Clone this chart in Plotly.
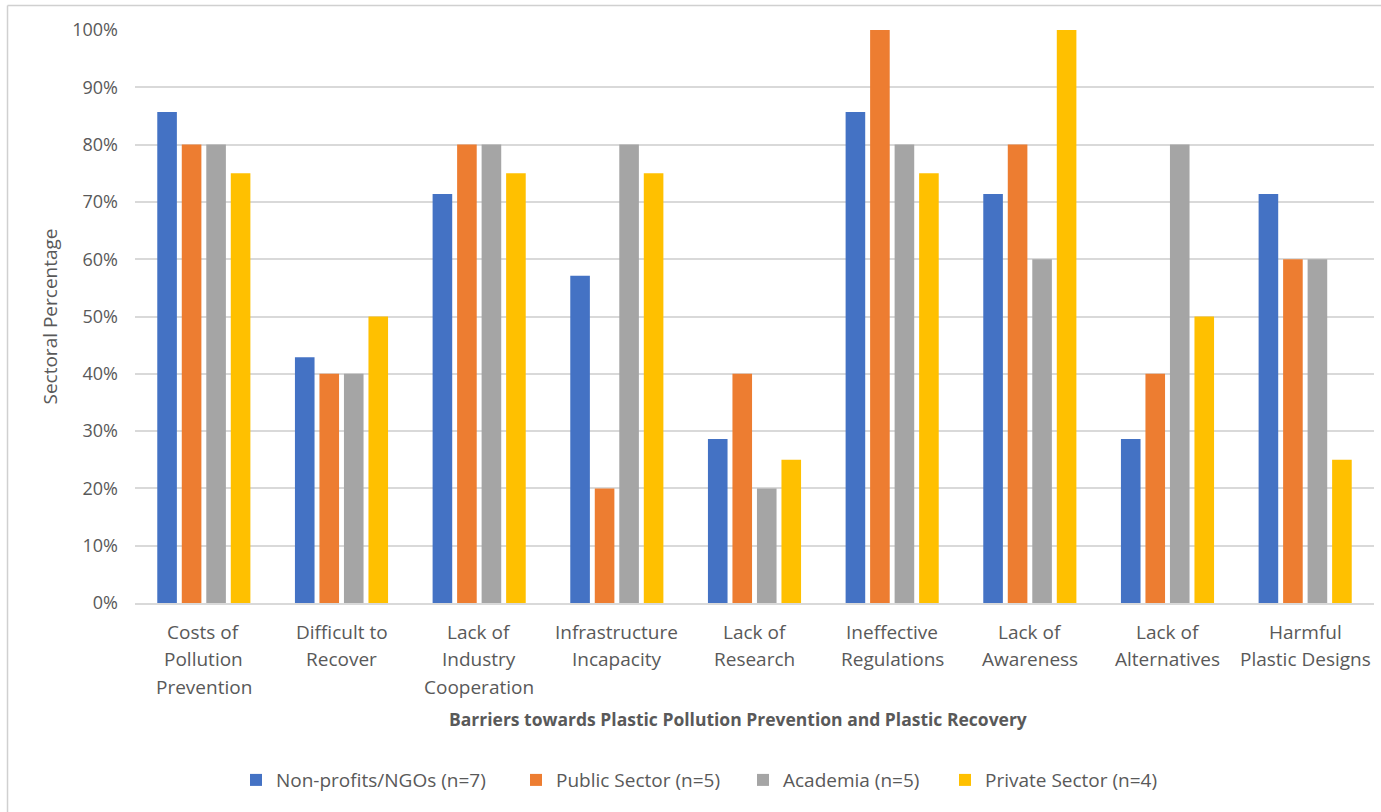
import plotly.graph_objects as go

# Barrier categories and their wrapped axis labels
categories = [
    "Costs of Pollution Prevention",
    "Difficult to Recover",
    "Lack of Industry Cooperation",
    "Infrastructure Incapacity",
    "Lack of Research",
    "Ineffective Regulations",
    "Lack of Awareness",
    "Lack of Alternatives",
    "Harmful Plastic Designs",
]
category_lines = [
    ["Costs of", "Pollution", "Prevention"],
    ["Difficult to", "Recover"],
    ["Lack of", "Industry", "Cooperation"],
    ["Infrastructure", "Incapacity"],
    ["Lack of", "Research"],
    ["Ineffective", "Regulations"],
    ["Lack of", "Awareness"],
    ["Lack of", "Alternatives"],
    ["Harmful", "Plastic Designs"],
]

# Share of respondents per sector citing each barrier (%)
ngo = [85.7, 42.9, 71.4, 57.1, 28.6, 85.7, 71.4, 28.6, 71.4]
public_sector = [80, 40, 80, 20, 40, 100, 80, 40, 60]
academia = [80, 40, 80, 80, 20, 80, 60, 80, 60]
private_sector = [75, 50, 75, 75, 25, 75, 100, 50, 25]

series_names = [
    "Non-profits/NGOs (n=7)",
    "Public Sector (n=5)",
    "Academia (n=5)",
    "Private Sector (n=4)",
]
series_values = [ngo, public_sector, academia, private_sector]
series_colors = ["#4472C4", "#ED7D31", "#A5A5A5", "#FFC000"]
# Legend entry widths (px) so the entries keep an even spacing
legend_widths = [235, 182, 157, 175]

FONT = "Open Sans, Noto Sans, sans-serif"
TEXT = "#595959"
GRID = "#D9D9D9"

fig = go.Figure()
for name, vals, color, lw in zip(series_names, series_values,
                                 series_colors, legend_widths):
    fig.add_trace(go.Bar(
        x=categories, y=vals, name=name, legendwidth=lw,
        marker=dict(color=color, line=dict(width=0)),
    ))

# Multi-line category labels under each group
annotations = []
for cat, lines in zip(categories, category_lines):
    for i, line in enumerate(lines):
        annotations.append(dict(
            x=cat, xref="x", y=0, yref="paper",
            text=line, showarrow=False,
            xanchor="center", yanchor="middle",
            yshift=-29 - 27.3 * i,
            font=dict(family=FONT, size=19, color=TEXT),
        ))

# Horizontal axis title
annotations.append(dict(
    x=0.4867, xref="paper", y=0, yref="paper",
    text="<b>Barriers towards Plastic Pollution Prevention and Plastic Recovery</b>",
    showarrow=False, xanchor="center", yanchor="middle", yshift=-116,
    font=dict(family=FONT, size=17.5, color=TEXT),
))

# Chart area frame (top and left edges)
frame = dict(color="#D0D0D0", width=1.5)
shapes = [
    dict(type="line", xref="paper", yref="paper",
         x0=-0.1029, x1=1.2, y0=1.0428, y1=1.0428, line=frame),
    dict(type="line", xref="paper", yref="paper",
         x0=-0.1029, x1=-0.1029, y0=1.0428, y1=-0.6, line=frame),
]

fig.update_layout(
    width=1381, height=812,
    margin=dict(l=135, r=7, t=30, b=209),
    paper_bgcolor="white", plot_bgcolor="white",
    barmode="group", bargap=0.288, bargroupgap=0.2,
    font=dict(family=FONT, size=18, color=TEXT),
    showlegend=True,
    legend=dict(
        orientation="h", x=0.0815, xanchor="left",
        y=-0.309, yanchor="middle",
        font=dict(family=FONT, size=19, color=TEXT),
        traceorder="normal",
    ),
    xaxis=dict(
        type="category", showticklabels=False, showgrid=False,
        showline=True, linecolor=GRID, linewidth=1.5, ticks="",
        zeroline=False,
    ),
    yaxis=dict(
        range=[0, 100], dtick=10, ticksuffix="%",
        showgrid=True, gridcolor=GRID, gridwidth=1.5,
        zeroline=False, showline=False, ticks="",
        ticklabelstandoff=16,
        tickfont=dict(family=FONT, size=18, color=TEXT),
        title=dict(text="Sectoral Percentage", standoff=9,
                   font=dict(family=FONT, size=19, color=TEXT)),
    ),
    annotations=annotations,
    shapes=shapes,
)

fig.write_html("out.html")
